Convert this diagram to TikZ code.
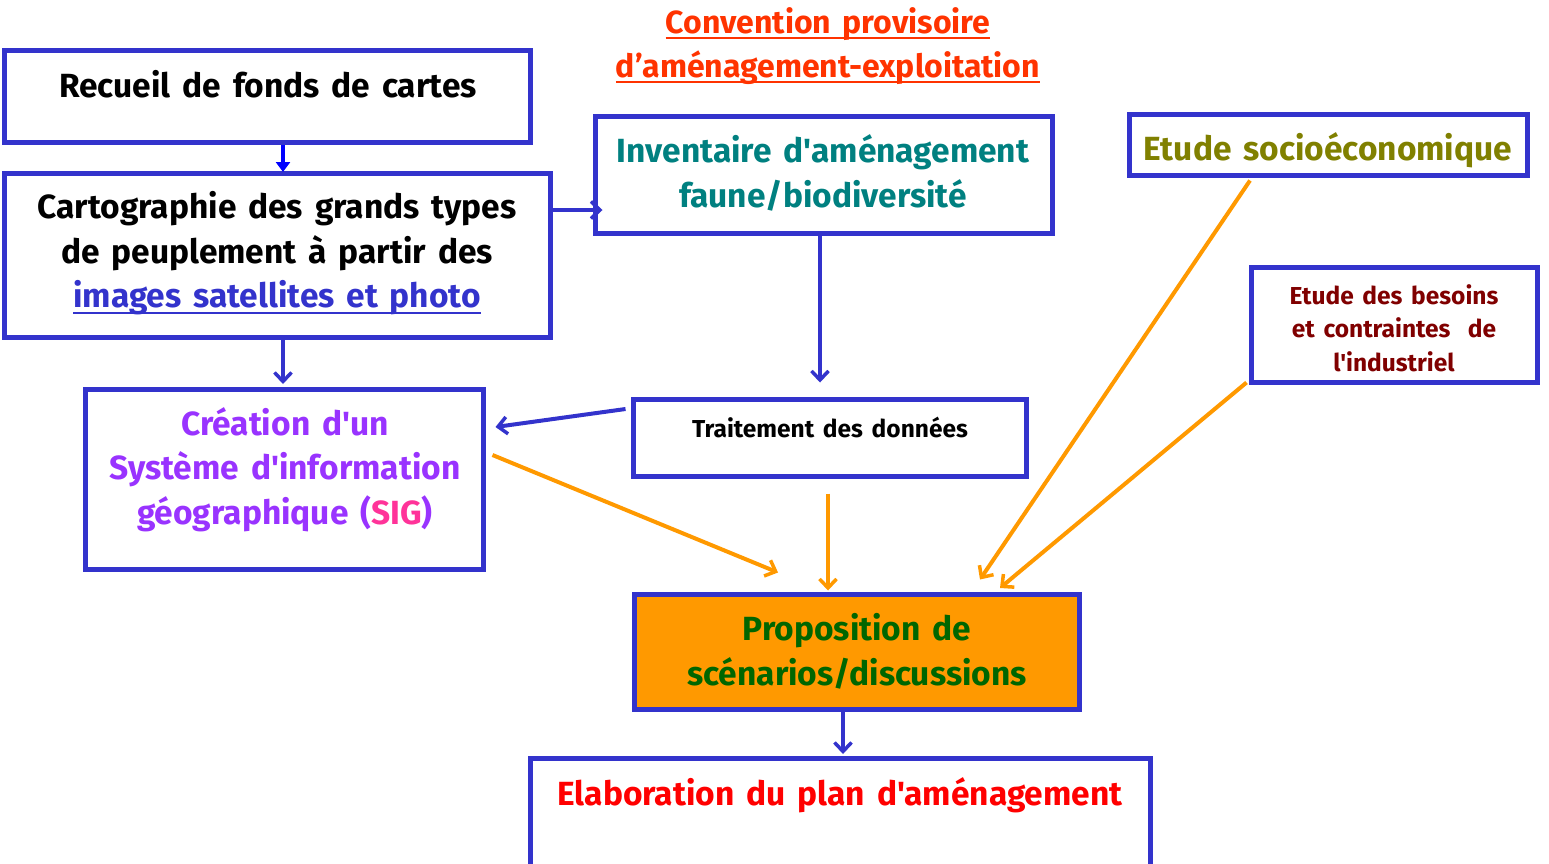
\documentclass[tikz,border=0pt]{standalone}
\usepackage{fontspec}
\setmainfont{Fira Sans}[WordSpace=1.5, Ligatures=TeXOff]
\usetikzlibrary{arrows.meta}
\definecolor{bord}{RGB}{51,51,204}
\definecolor{pureblue}{RGB}{0,0,255}
\definecolor{orng}{RGB}{255,153,0}
\definecolor{ttl}{RGB}{255,51,0}
\definecolor{tealc}{RGB}{0,128,128}
\definecolor{olivec}{RGB}{128,128,0}
\definecolor{maroonc}{RGB}{128,0,0}
\definecolor{purplec}{RGB}{153,51,255}
\definecolor{pinkc}{RGB}{255,51,153}
\definecolor{greenc}{RGB}{0,102,0}
\definecolor{redc}{RGB}{255,0,0}
\begin{document}
\begin{tikzpicture}[x=1pt,y=-1pt,
  bx/.style={draw=bord, line width=5pt, inner sep=0pt},
  lbl/.style={anchor=base, inner sep=0pt, font=\bfseries\fontsize{33.5}{40}\selectfont},
  ttlfont/.style={anchor=base, inner sep=0pt, text=ttl, font=\bfseries\fontsize{32}{38}\selectfont},
  sml/.style={anchor=base, inner sep=0pt, font=\bfseries\fontsize{24.5}{29}\selectfont},
  uln/.style={line width=2pt},
  bluearr/.style={draw=bord, line width=4pt, -{Straight Barb[length=9pt,width=17pt,line width=3.5pt]}},
  orarr/.style={draw=orng, line width=4pt, -{Straight Barb[length=9pt,width=17pt,line width=3.5pt]}},
  triarr/.style={draw=pureblue, line width=4pt, -{Triangle[length=10pt,width=14pt]}}
]
\clip (0,0) rectangle (1549,863);
\useasboundingbox (0,0) rectangle (1549,863);

% boxes
\node[bx, minimum width=526pt, minimum height=92pt] (rec) at (267.5,96.5) {};
\node[bx, minimum width=546pt, minimum height=164pt] (carto) at (277.5,255.5) {};
\node[bx, minimum width=457pt, minimum height=117pt] (inv) at (824,175) {};
\node[bx, minimum width=398pt, minimum height=61pt] (socio) at (1328.5,145) {};
\node[bx, minimum width=286pt, minimum height=115pt] (bes) at (1394.5,325) {};
\node[bx, minimum width=398pt, minimum height=180pt] (sig) at (284.5,479.5) {};
\node[bx, minimum width=393pt, minimum height=77pt] (trait) at (830,438) {};
\node[bx, fill=orng, minimum width=445pt, minimum height=115pt] (prop) at (857,652) {};
\node[bx, minimum width=620pt, minimum height=112pt] (elab) at (840.5,814.5) {};

% title
\node[ttlfont] (t1) at (828,33) {Convention provisoire};
\node[ttlfont] (t2) at (828,77) {d’aménagement-exploitation};
\draw[uln, ttl] ([yshift=-5pt]t1.base west) -- ([yshift=-5pt]t1.base east);
\draw[uln, ttl] ([yshift=-5pt]t2.base west) -- ([yshift=-5pt]t2.base east);

% texts
\node[lbl] (rect) at (268,97) {Recueil de fonds de cartes};
\node[lbl] (c1) at (277,218) {Cartographie des grands types};
\node[lbl] (c2) at (277,263) {de peuplement à partir des};
\node[lbl, text=bord] (c3) at (277,307) {images satellites et photo};
\draw[uln, bord] ([yshift=-6pt]c3.base west) -- ([yshift=-6pt]c3.base east);
\node[lbl, text=tealc] (i1) at (823,162) {Inventaire d'aménagement};
\node[lbl, text=tealc] (i2) at (823,207) {faune/biodiversité};
\node[lbl, text=olivec] (s1) at (1328,160) {Etude socioéconomique};
\node[sml, text=maroonc] (b1) at (1394,304) {Etude des besoins};
\node[sml, text=maroonc] (b2) at (1394,337) {et contraintes \ de};
\node[sml, text=maroonc] (b3) at (1394,371) {l'industriel};
\node[lbl, text=purplec] (g1) at (285,435) {Création d'un};
\node[lbl, text=purplec] (g2) at (285,479) {Système d'information};
\node[lbl, text=purplec] (g3) at (285,524) {géographique (\textcolor{pinkc}{SIG})};
\node[sml] (tr) at (830,437) {Traitement des données};
\node[lbl, text=greenc] (p1) at (857,640) {Proposition de};
\node[lbl, text=greenc] (p2) at (857,685) {scénarios/discussions};
\node[lbl, text=redc] (e1) at (840,805) {Elaboration du plan d'aménagement};

% connectors
\draw[triarr] ([xshift=15.5pt]rec.south) -- ([xshift=5.5pt,yshift=-1pt]carto.north);
\draw[bluearr] ([yshift=45.5pt]carto.east) -- ([xshift=9.5pt,yshift=-35pt]inv.west);
\draw[bluearr] ([xshift=5.5pt]carto.south) -- ([xshift=-1.5pt,yshift=3pt]sig.north);
\draw[bluearr] ([xshift=-4pt]inv.south) -- ([xshift=-10pt,yshift=14.5pt]trait.north);
\draw[bluearr] ([xshift=-5.5pt,yshift=29pt]trait.west) -- ([xshift=9.5pt,yshift=52.5pt]sig.east);
\draw[orarr] ([xshift=6.5pt,yshift=24.5pt]sig.east) -- ([xshift=-79pt,yshift=19.5pt]prop.north);
\draw[orarr] ([xshift=-2pt,yshift=-14.5pt]trait.south) -- ([xshift=-29pt,yshift=1.5pt]prop.north);
\draw[orarr] ([xshift=-78.5pt,yshift=-2.5pt]socio.south) -- ([xshift=123pt,yshift=12.5pt]prop.north);
\draw[orarr] ([xshift=-2.5pt,yshift=2.5pt]bes.south west) -- ([xshift=143pt,yshift=4pt]prop.north);
\draw[bluearr] ([xshift=-14pt]prop.south) -- ([xshift=2.5pt,yshift=2pt]elab.north);
\end{tikzpicture}
\end{document}
